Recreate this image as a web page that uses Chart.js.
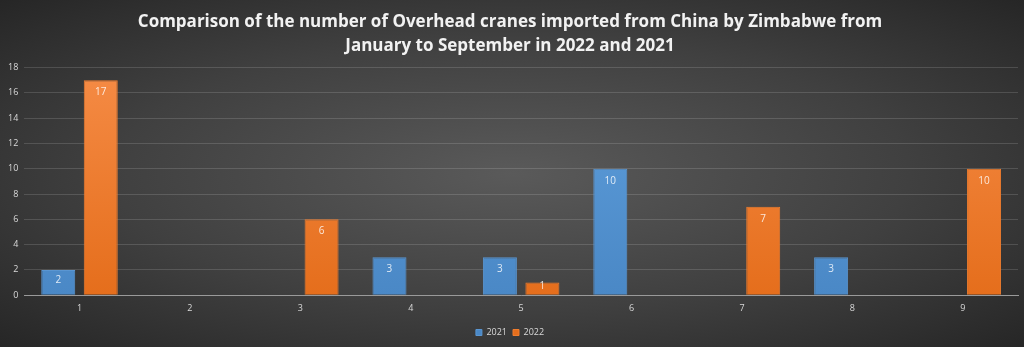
<!DOCTYPE html>
<html>
<head>
<meta charset="utf-8">
<script src="https://cdn.jsdelivr.net/npm/chart.js@4/dist/chart.umd.min.js"></script>
<style>
  html, body { margin: 0; padding: 0; }
  body {
    width: 1024px; height: 347px; overflow: hidden;
    background: radial-gradient(ellipse at 50% 50%, #5a5a5a 0%, #404040 55%, #262626 100%);
  }
  #wrap { width: 1024px; height: 347px; }
</style>
</head>
<body>
<div id="wrap"><canvas id="chart" width="1024" height="347"></canvas></div>
<script>
// ---------- DATA ----------
const months = ["1", "2", "3", "4", "5", "6", "7", "8", "9"];
const cranes2021 = [2, 0, 0, 3, 3, 10, 0, 3, 0];
const cranes2022 = [17, 0, 6, 0, 1, 0, 7, 0, 10];
const yTicks = [0, 2, 4, 6, 8, 10, 12, 14, 16, 18];

// ---------- BAR FILL ----------
function barFill(top, bottom) {
    return (c) => {
        const area = c.chart.chartArea;
        if (!area) return bottom;
        const g = c.chart.ctx.createLinearGradient(0, area.top, 0, area.bottom);
        g.addColorStop(0, top);
        g.addColorStop(1, bottom);
        return g;
    };
}

// ---------- VALUE LABELS (inside end) ----------
const valueLabels = {
    id: "valueLabels",
    afterDatasetsDraw(chart) {
        const ctx = chart.ctx;
        ctx.save();
        ctx.font = "10px 'Open Sans', sans-serif";
        ctx.fillStyle = "rgba(255,255,255,0.82)";
        ctx.textAlign = "center";
        ctx.textBaseline = "middle";
        chart.data.datasets.forEach((ds, i) => {
            chart.getDatasetMeta(i).data.forEach((bar, j) => {
                const v = ds.data[j];
                if (!v) return;
                const y = Math.min(bar.y + 12, (bar.y + bar.base) / 2 - 2);
                ctx.fillText(v, bar.x, y);
            });
        });
        ctx.restore();
    }
};

new Chart(document.getElementById("chart"), {
    type: "bar",
    data: {
        labels: months,
        datasets: [
            {
                label: "2021",
                data: cranes2021,
                backgroundColor: barFill("#5f9fdc", "#4a88c6"),
                borderColor: "#5a96d2",
                borderWidth: 1
            },
            {
                label: "2022",
                data: cranes2022,
                backgroundColor: barFill("#f58b45", "#e56e1c"),
                borderColor: "#f07d2e",
                borderWidth: 1
            }
        ]
    },
    options: {
        responsive: false,
        animation: false,
        layout: { padding: { left: 2, right: 6, top: 0, bottom: 0 } },
        barPercentage: 0.8,
        categoryPercentage: 0.77,
        plugins: {
            title: {
                display: true,
                text: [
                    "Comparison of the number of Overhead cranes imported from China by Zimbabwe from",
                    "January to September in 2022 and 2021"
                ],
                color: "#f2f2f2",
                font: { family: "'Open Sans', sans-serif", size: 17, weight: "bold", lineHeight: 1.4 },
                padding: { top: 10, bottom: 10 }
            },
            legend: {
                position: "bottom",
                labels: {
                    color: "#d9d9d9",
                    font: { family: "'Open Sans', sans-serif", size: 9 },
                    boxWidth: 6,
                    boxHeight: 6,
                    padding: 6
                }
            },
            tooltip: { enabled: false }
        },
        scales: {
            x: {
                grid: { display: false, drawTicks: false },
                border: { color: "#9a9a9a", width: 1 },
                ticks: { color: "#d9d9d9", font: { family: "'Open Sans', sans-serif", size: 9 }, padding: 8 }
            },
            y: {
                min: 0,
                max: 18,
                afterBuildTicks: (axis) => { axis.ticks = yTicks.map(v => ({ value: v })); },
                grid: { color: "rgba(255,255,255,0.14)", drawTicks: false },
                border: { display: false },
                ticks: { color: "#d9d9d9", font: { family: "'Open Sans', sans-serif", size: 9 }, padding: 6 }
            }
        }
    },
    plugins: [valueLabels]
});
</script>
</body>
</html>
